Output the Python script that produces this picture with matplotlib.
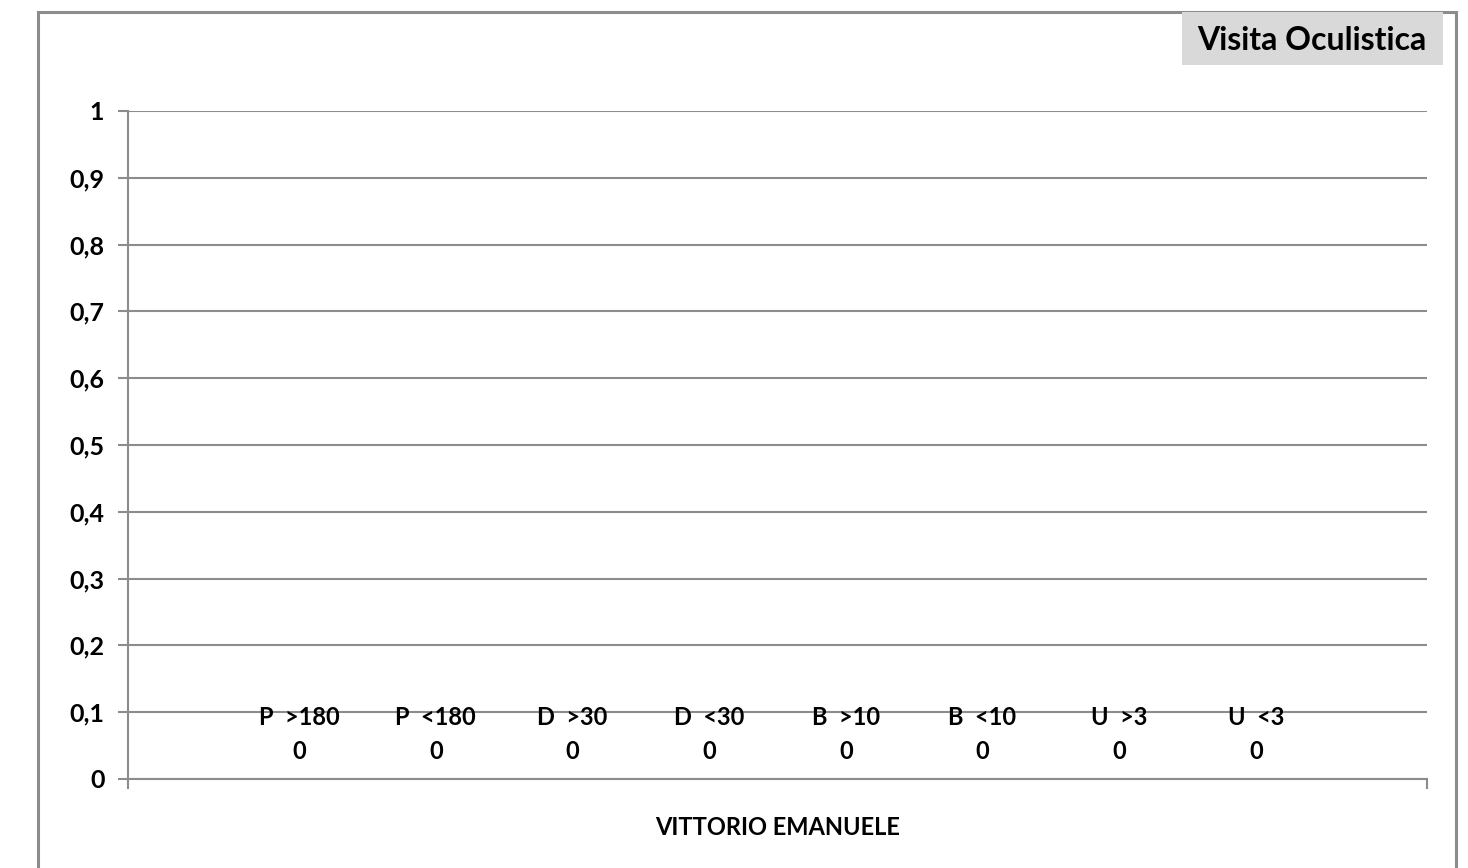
import matplotlib.pyplot as plt
from matplotlib.patches import Rectangle

# data: one category, eight series, all zero
category = 'VITTORIO EMANUELE'
series_names = ['P  >180', 'P  <180', 'D  >30', 'D  <30', 'B  >10', 'B  <10', 'U  >3', 'U  <3']
values = [0, 0, 0, 0, 0, 0, 0, 0]
y_ticks = [0, 0.1, 0.2, 0.3, 0.4, 0.5, 0.6, 0.7, 0.8, 0.9, 1]
title = 'Visita Oculistica'

plt.rcParams['font.family'] = ['Lato', 'DejaVu Sans']
plt.rcParams['font.weight'] = 'bold'

W, H = 1468, 868
fig = plt.figure(figsize=(W / 100, H / 100), dpi=100)
ax = fig.add_axes([128 / W, 1 - 779 / H, (1427 - 128) / W, (779 - 111) / H])

gray = '#8c8c8c'
n = len(series_names)
bw = 0.1052
for i, (name, v) in enumerate(zip(series_names, values)):
    x = (i - (n - 1) / 2) * bw
    ax.bar(x, v, width=bw, color='#4f81bd')
    ax.annotate(f'{name}\n{v}', xy=(x, v), xytext=(0, 32), textcoords='offset points',
                ha='center', va='center', fontsize=17, fontweight='bold', linespacing=1.6)

ax.set_xlim(-0.5, 0.5)
ax.set_ylim(0, 1)
ax.set_yticks(y_ticks)
ax.set_yticklabels([f'{t:g}'.replace('.', ',') for t in y_ticks], fontsize=18, fontweight='bold')
ax.set_xticks([-0.5, 0.5])
ax.set_xticklabels(['', ''])
ax.tick_params(axis='y', length=7, width=1.5, color=gray, pad=10)
ax.tick_params(axis='x', length=7, width=1.5, color=gray)
ax.yaxis.grid(True, color=gray, linewidth=1.5)
ax.set_axisbelow(True)
for s in ['top', 'right']:
    ax.spines[s].set_visible(False)
for s in ['left', 'bottom']:
    ax.spines[s].set_color(gray)
    ax.spines[s].set_linewidth(1.5)
ax.set_xlabel(category, fontsize=17, fontweight='bold', labelpad=16)

# outer frame
fig.patches.append(Rectangle((38 / W, -0.01), (1456 - 38) / W, 1.01 - 12 / H,
                             transform=fig.transFigure, fill=False, edgecolor=gray, linewidth=2.2))
# title box
fig.patches.append(Rectangle((1182 / W, 1 - 65 / H), (1443 - 1182) / W, 53 / H,
                             transform=fig.transFigure, facecolor='#d9d9d9', edgecolor='none'))
fig.text(1312 / W, 1 - 40 / H, title, ha='center', va='center', fontsize=23, fontweight='bold')

fig.savefig('out.png', dpi=100)
